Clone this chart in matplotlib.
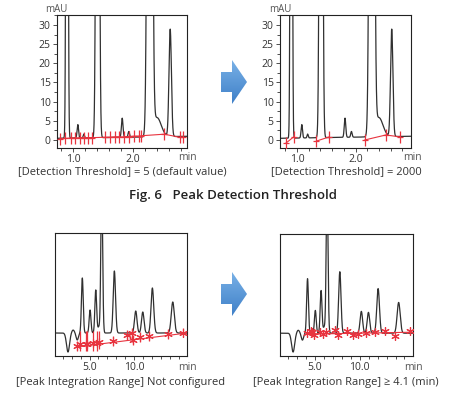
import numpy as np
import matplotlib
matplotlib.use("Agg")
import matplotlib.pyplot as plt
from matplotlib.patches import Polygon
from matplotlib.ticker import MultipleLocator, FixedLocator

plt.rcParams["font.family"] = ["Open Sans", "DejaVu Sans"]

# --- chromatogram 1 (top row), peaks: time (min), height (mAU), width (min)
top_peak_t = [0.90, 1.08, 1.18, 1.41, 1.82, 1.93, 2.28, 2.40, 2.62]
top_peak_h = [300, 3.5, 1.0, 300, 5.0, 1.5, 400, 5.0, 28]
top_peak_w = [0.013, 0.012, 0.010, 0.020, 0.013, 0.012, 0.028, 0.07, 0.02]
top_base = [0.4, 1.0]  # baseline at start / end

# detected peak markers, threshold 5
tl_mark_t = [0.78, 0.86, 0.96, 1.03, 1.12, 1.18, 1.25, 1.31, 1.53, 1.62,
             1.70, 1.76, 1.85, 1.93, 2.02, 2.10, 2.14, 2.52, 2.78, 2.84]
tl_mark_y = [0.3, 0.4, 0.5, 0.5, 0.6, 0.6, 0.6, 0.6, 0.7, 0.7,
             0.8, 0.8, 0.8, 0.9, 1.0, 1.0, 1.1, 1.5, 0.7, 0.8]

# detected peak markers, threshold 2000
tr_mark_t = [0.81, 0.95, 1.33, 1.55, 2.16, 2.52, 2.76]
tr_mark_y = [-0.8, 0.9, -0.3, 0.8, 0.0, 1.3, 0.8]
tr_groups = [[0, 1], [2, 3], [4, 5, 6]]

# --- chromatogram 2 (bottom row)
bot_peak_t = [2.58, 3.15, 3.62, 4.19, 5.06, 5.70, 6.05, 6.37, 7.79, 10.19, 10.98, 12.06, 14.35]
bot_peak_h = [-19, 3, -7, 55, 23, 43, 6, 150, 62, 22, 21, 45, 31]
bot_peak_w = [0.17, 0.15, 0.13, 0.10, 0.10, 0.10, 0.12, 0.10, 0.13, 0.14, 0.14, 0.15, 0.17]

bl_mark_t = [3.56, 3.93, 4.60, 4.75, 5.42, 5.80, 6.09, 7.60, 9.17, 9.74, 9.85, 10.67, 11.72, 13.85, 15.54]
bl_mark_y = [-13, -11, -11, -11, -10, -10, -9, -8, -2, 0, -7, -4, -3, -1, 0]
bl_stroke_lo = [-18, -18, -18, -18, -18, -18, -16, -13, -7, -9, -12, -9, -8, -6, -4]
bl_stroke_hi = [-8, 2, 2, 2, 2, 2, 2, -3, 3, 5, -2, 1, 2, 4, 5]
bl_line_t = [3.5, 15.95]
bl_line_y = [-14, 0]

br_mark_t = [4.12, 4.53, 4.72, 4.91, 5.54, 5.92, 6.21, 7.22, 7.61, 8.54,
             9.21, 9.78, 10.71, 11.72, 12.78, 13.97, 15.65]
br_mark_y = [0, 2, 1, -2, 1, -1, 1, 3, -2, 2, -2, -1, 0, 1, 2, -3, 2]
br_line_t = [4.0, 15.95]
br_line_y = [-1, 1]

captions = ["[Detection Threshold] = 5 (default value)",
            "[Detection Threshold] = 2000",
            "[Peak Integration Range] Not configured",
            "[Peak Integration Range] \u2265 4.1 (min)"]
fig_title = "Fig. 6   Peak Detection Threshold"

RED = "#e8343f"
TRACE = "#303030"
W, H = 451, 397


def trace(t, pt, ph, pw, base):
    y = np.interp(t, [t[0], t[-1]], base)
    for c, h, w in zip(pt, ph, pw):
        y = y + h * np.exp(-0.5 * ((t - c) / w) ** 2)
    return y


def box(x0, y0, x1, y1):
    return [x0 / W, 1 - y1 / H, (x1 - x0) / W, (y1 - y0) / H]


def style(ax):
    for s in ax.spines.values():
        s.set_linewidth(0.8)
        s.set_color("#222222")
    ax.tick_params(which="both", direction="out", width=0.6, color="#333333",
                   labelsize=7.5, labelcolor="#333333", pad=1.5)
    ax.tick_params(which="major", length=3)
    ax.tick_params(which="minor", length=2)


fig = plt.figure(figsize=(W / 100, H / 100), dpi=100)

# top row
t_top = np.linspace(0.6, 3.1, 3000)
y_top = trace(t_top, top_peak_t, top_peak_h, top_peak_w, top_base)

ax1 = fig.add_axes(box(57, 15, 187, 148))
ax2 = fig.add_axes(box(280, 15, 411, 148))
for ax, xl in [(ax1, (0.733, 2.9)), (ax2, (0.707, 2.95))]:
    ax.plot(t_top, y_top, color=TRACE, lw=0.9, zorder=2)
    ax.set_xlim(*xl)
    ax.set_ylim(-2.1, 32.6)
    ax.xaxis.set_major_locator(FixedLocator([1.0, 2.0]))
    ax.xaxis.set_minor_locator(MultipleLocator(0.2))
    ax.set_xticklabels(["1.0", "2.0"])
    ax.yaxis.set_major_locator(MultipleLocator(5))
    ax.yaxis.set_minor_locator(MultipleLocator(2.5))
    style(ax)

ax1.plot(tl_mark_t, tl_mark_y, color=RED, lw=0.8, zorder=3)
ax1.plot(tl_mark_t, tl_mark_y, ls="none", marker="|", ms=8, mew=0.9, color=RED, zorder=4)
ax1.plot(tl_mark_t, tl_mark_y, ls="none", marker="_", ms=5, mew=0.9, color=RED, zorder=4)

for g in tr_groups:
    ax2.plot([tr_mark_t[i] for i in g], [tr_mark_y[i] for i in g], color=RED, lw=0.8, zorder=3)
ax2.plot(tr_mark_t, tr_mark_y, ls="none", marker="|", ms=8, mew=0.9, color=RED, zorder=4)
ax2.plot(tr_mark_t, tr_mark_y, ls="none", marker="_", ms=5, mew=0.9, color=RED, zorder=4)

# bottom row
t_bot = np.linspace(0.5, 16.5, 4000)
y_bot = trace(t_bot, bot_peak_t, bot_peak_h, bot_peak_w, [0, 0])

ax3 = fig.add_axes(box(55, 233, 187, 356))
ax4 = fig.add_axes(box(280, 234, 413, 356))
for ax in (ax3, ax4):
    ax.plot(t_bot, y_bot, color=TRACE, lw=0.9, zorder=2)
    ax.set_xlim(1.12, 15.95)
    ax.set_ylim(-23, 100)
    ax.xaxis.set_major_locator(FixedLocator([5.0, 10.0]))
    ax.xaxis.set_minor_locator(MultipleLocator(1))
    ax.set_xticklabels(["5.0", "10.0"])
    ax.set_yticks([])
    style(ax)

ax3.plot(bl_line_t, bl_line_y, color=RED, lw=0.8, zorder=3)
ax3.vlines(bl_mark_t, bl_stroke_lo, bl_stroke_hi, color=RED, lw=0.9, zorder=3)
ax3.plot(bl_mark_t, bl_mark_y, ls="none", marker=(6, 2, 0), ms=6, mew=0.8, color=RED, zorder=4)

ax4.plot(br_line_t, br_line_y, color=RED, lw=0.8, zorder=3)
ax4.vlines(br_mark_t, [v - 4 for v in br_mark_y], [v + 4 for v in br_mark_y],
           color=RED, lw=0.9, zorder=3)
ax4.plot(br_mark_t, br_mark_y, ls="none", marker=(6, 2, 0), ms=6, mew=0.8, color=RED, zorder=4)

# overlay in pixel coordinates for texts and arrows
ov = fig.add_axes([0, 0, 1, 1], zorder=-1)
ov.set_xlim(0, W)
ov.set_ylim(H, 0)
ov.axis("off")

blues = matplotlib.colors.LinearSegmentedColormap.from_list("b", ["#78b0e6", "#3f80c8"])
for cx, cy in [(234, 82), (234, 294)]:
    pts = [(cx - 13, cy - 10), (cx - 2, cy - 10), (cx - 2, cy - 22), (cx + 13, cy),
           (cx - 2, cy + 22), (cx - 2, cy + 10), (cx - 13, cy + 10)]
    poly = Polygon(pts, closed=True, facecolor="none", edgecolor="none")
    ov.add_patch(poly)
    grad = np.linspace(0, 1, 64).reshape(-1, 1)
    img = ov.imshow(grad, extent=(cx - 13, cx + 13, cy + 22, cy - 22), aspect="auto",
                    cmap=blues, origin="upper", zorder=1)
    img.set_clip_path(poly)
ov.set_xlim(0, W)
ov.set_ylim(H, 0)

for x, y in [(56, 10), (280, 10)]:
    ov.text(x, y, "mAU", ha="center", va="center", fontsize=7, color="#555555")
for x, y in [(187, 158), (412, 158), (187, 368), (413, 368)]:
    ov.text(x, y, "min", ha="center", va="center", fontsize=7.5, color="#555555")

ov.text(122, 172, captions[0], ha="center", va="center", fontsize=8, color="#333333")
ov.text(346, 172, captions[1], ha="center", va="center", fontsize=8, color="#333333")
ov.text(233, 196, fig_title, ha="center", va="center", fontsize=9.5, fontweight="semibold", color="#222222")
ov.text(121, 383, captions[2], ha="center", va="center", fontsize=8, color="#333333")
ov.text(346, 383, captions[3], ha="center", va="center", fontsize=8, color="#333333")

fig.savefig("out.png", dpi=100)
